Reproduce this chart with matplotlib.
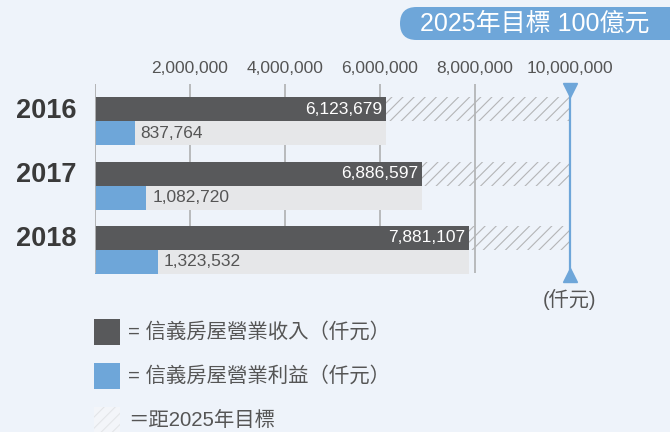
import matplotlib
matplotlib.use("Agg")
import matplotlib.pyplot as plt
from matplotlib.patches import Rectangle, FancyBboxPatch
import numpy as np

years = ["2016", "2017", "2018"]
revenue = [6123679, 6886597, 7881107]
profit = [837764, 1082720, 1323532]
target = 10000000
tick_values = [2000000, 4000000, 6000000, 8000000, 10000000]
tick_labels = ["2,000,000", "4,000,000", "6,000,000", "8,000,000", "10,000,000"]
title_text = "2025年目標 100億元"
unit_text = "(仟元)"
legend_texts = ["= 信義房屋營業收入（仟元）", "= 信義房屋營業利益（仟元）", "＝距2025年目標"]

FONT = ["Liberation Sans", "Noto Sans CJK TC", "DejaVu Sans"]
plt.rcParams["font.family"] = FONT
plt.rcParams["hatch.linewidth"] = 0.8

BG = "#eef3fa"
DARK = "#58595b"
BLUE = "#6ea6d9"
LIGHT = "#e6e7e9"
GRID = "#b4b5b7"
TXT = "#555555"

W, H = 670, 432
fig = plt.figure(figsize=(6.7, 4.32), dpi=100, facecolor=BG)

def fx(px):
    return px / W

def fy(py):
    return 1 - py / H

ax_top, ax_bot = 84, 280
ax = fig.add_axes([fx(95), fy(ax_bot), fx(570) - fx(95), (ax_bot - ax_top) / H])
ax.set_facecolor("none")
ax.set_xlim(0, target)
unit = 64.5
ax.set_ylim((ax_bot - 121) / unit, (ax_top - 121) / unit)
for s in ax.spines.values():
    s.set_visible(False)

y = np.arange(len(years))
bh = 24 / unit
off = 12 / unit

grid_bottom = (273 - 121) / unit
grid_top = (ax_top - 121) / unit
ax.vlines([0] + tick_values[:-1], grid_bottom, grid_top, colors=GRID, linewidth=1.3, zorder=1)

rev = np.array(revenue)
ax.barh(y - off, rev, height=bh, color=DARK, zorder=3)
ax.barh(y - off, target - rev, left=rev, height=bh, facecolor="none",
        edgecolor="#b4b5b7", hatch="///", linewidth=0, zorder=2)
ax.barh(y + off, rev, height=bh, color=LIGHT, zorder=2)
ax.barh(y + off, profit, height=bh, color=BLUE, zorder=3)
ax.vlines([0], grid_bottom, grid_top, colors=GRID, linewidth=1.3, zorder=4)

for i in range(len(years)):
    ax.text(revenue[i] - 80000, y[i] - off, f"{revenue[i]:,}", color="white",
            ha="right", va="center", fontsize=12.5, zorder=5)
    ax.text(profit[i] + 120000, y[i] + off, f"{profit[i]:,}", color=TXT,
            ha="left", va="center", fontsize=12.5, zorder=5)
    ax.text(-380000, y[i] - 10.5 / unit, years[i], color="#3a3a3a", ha="right", va="center",
            fontsize=19.5, fontweight="bold")

t_top = (90 - 121) / unit
t_bot = (275 - 121) / unit
ax.plot([target, target], [t_top, t_bot], color=BLUE, linewidth=1.6, clip_on=False, zorder=5)
ax.plot([target], [t_top], marker="v", color=BLUE, markersize=10, clip_on=False, zorder=6)
ax.plot([target], [t_bot], marker="^", color=BLUE, markersize=10, clip_on=False, zorder=6)

ax.xaxis.tick_top()
ax.set_xticks(tick_values)
ax.set_xticklabels(tick_labels, fontsize=12.5, color=TXT)
ax.tick_params(axis="x", length=0, pad=6)
ax.set_yticks([])

fig.text(fx(570), fy(299), unit_text, ha="center", va="center", fontsize=14.5, color=TXT)

# title badge (pill shape, drawn in inches so the rounding stays circular)
badge = FancyBboxPatch((4.00, (H - 40) / 100), 3.0, 0.33,
                       boxstyle="round,pad=0,rounding_size=0.165",
                       transform=fig.dpi_scale_trans, facecolor=BLUE, edgecolor="none")
fig.add_artist(badge)
fig.text(fx(535), fy(24), title_text, ha="center", va="center", fontsize=18, color="white")

sq = [(319, DARK, None), (363, BLUE, None), (407, "none", "///")]
for (top, col, hat), label in zip(sq, legend_texts):
    if hat:
        r = Rectangle((fx(94), fy(top + 26)), fx(26), 26 / H, transform=fig.transFigure,
                      facecolor="#f3f5f9", edgecolor="#e3e5e8", hatch=hat, linewidth=0)
    else:
        r = Rectangle((fx(94), fy(top + 26)), fx(26), 26 / H, transform=fig.transFigure,
                      facecolor=col, edgecolor="none")
    fig.add_artist(r)
    fig.text(fx(128), fy(top + 13), label, ha="left", va="center", fontsize=14.7, color=TXT)

fig.savefig("out.png", dpi=100, facecolor=BG)
